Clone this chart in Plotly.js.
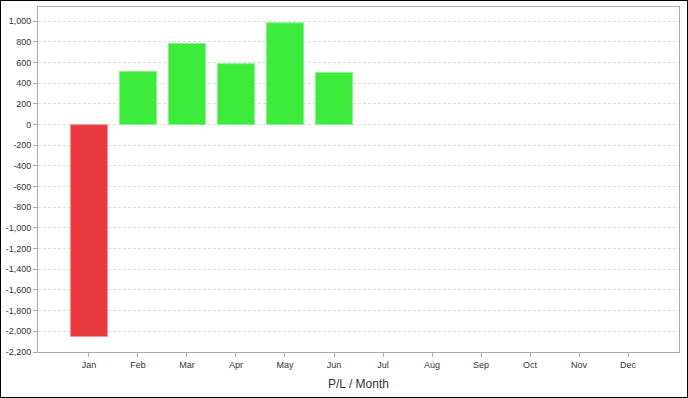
<!DOCTYPE html>
<html><head><meta charset="utf-8">
<script src="https://cdn.plot.ly/plotly-3.0.1.min.js"></script>
<style>
html,body{margin:0;padding:0;background:#fff;}
#frame{width:688px;height:398px;box-sizing:border-box;border:1px solid #000;position:relative;overflow:hidden;}
#chart{position:absolute;left:-1px;top:-1px;width:688px;height:398px;}
</style></head>
<body><div id="frame"><div id="chart"></div></div>
<script>
const months = ["Jan","Feb","Mar","Apr","May","Jun","Jul","Aug","Sep","Oct","Nov","Dec"];
const pl = [-2050, 515, 785, 590, 985, 505, null, null, null, null, null, null];
const yTicks = [-2200,-2000,-1800,-1600,-1400,-1200,-1000,-800,-600,-400,-200,0,200,400,600,800,1000];
const xTitle = "P/L / Month";

const fill = pl.map(v => v !== null && v < 0 ? "#e8393e" : "#3deb3d");
const line = pl.map(v => v !== null && v < 0 ? "#f29a9c" : "#8ff08f");

const trace = {
  type: "bar", x: months, y: pl, width: 0.76,
  marker: {color: fill, line: {color: line, width: 1}},
  hoverinfo: "x+y"
};
const layout = {
  width: 688, height: 398,
  margin: {l: 38, r: 9, t: 7, b: 46},
  paper_bgcolor: "#fff", plot_bgcolor: "#fff",
  showlegend: false,
  font: {family: "Liberation Sans, Arial, sans-serif", size: 9, color: "#333"},
  xaxis: {
    type: "category", range: [-1.04, 12.04],
    showline: true, linecolor: "#aaa", linewidth: 1, mirror: true,
    ticks: "outside", ticklen: 4, tickcolor: "#aaa",
    showgrid: false, zeroline: false,
    tickfont: {size: 9, color: "#333"},
    title: {text: xTitle, font: {size: 12, color: "#333"}, standoff: 10}
  },
  yaxis: {
    range: [-2200, 1138],
    tickvals: yTicks, ticktext: yTicks.map(v => v.toLocaleString("en-US")),
    showline: true, linecolor: "#aaa", linewidth: 1, mirror: true,
    ticks: "outside", ticklen: 4, tickcolor: "#aaa",
    gridcolor: "#dedede", griddash: "3px,2px", gridwidth: 1,
    zeroline: false,
    tickfont: {size: 9, color: "#333"}
  }
};
Plotly.newPlot("chart", [trace], layout, {displayModeBar: false, staticPlot: true});
</script></body></html>
